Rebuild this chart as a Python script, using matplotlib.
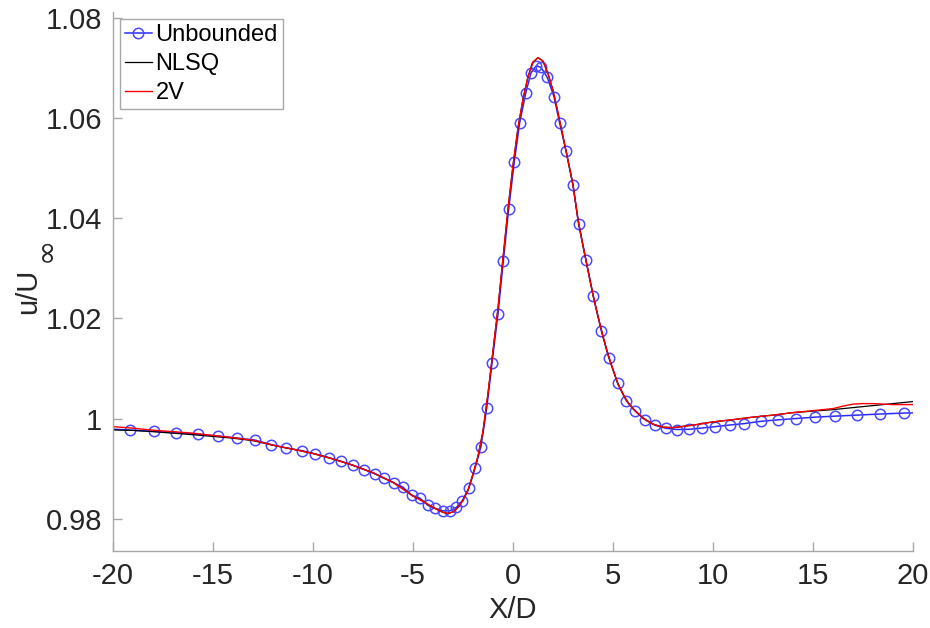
import numpy as np
import matplotlib
matplotlib.use('Agg')
import matplotlib.pyplot as plt

plt.rcParams['font.family'] = ['Liberation Sans', 'DejaVu Sans']
plt.rcParams['axes.unicode_minus'] = False

# Unbounded: line end points plus the circle markers
unb_x = [-20.0, -19.165, -17.965, -16.835, -15.75, -14.765, -13.815, -12.915, -12.1,
         -11.335, -10.565, -9.885, -9.215, -8.6, -8.015, -7.435, -6.885, -6.45, -5.95,
         -5.5, -5.065, -4.65, -4.25, -3.885, -3.515, -3.165, -2.835, -2.55, -2.215,
         -1.9, -1.6, -1.315, -1.05, -0.75, -0.485, -0.215, 0.065, 0.335, 0.635, 0.9,
         1.165, 1.4, 1.715, 2.05, 2.335, 2.65, 3.0, 3.285, 3.65, 4.015, 4.415, 4.8,
         5.235, 5.665, 6.125, 6.61, 7.11, 7.65, 8.215, 8.79, 9.45, 10.125, 10.84,
         11.575, 12.385, 13.24, 14.15, 15.11, 16.11, 17.185, 18.35, 19.55, 20.0]
unb_y = [0.9979, 0.99773, 0.99747, 0.99721, 0.99688, 0.99654, 0.99614, 0.99574, 0.99483,
         0.99415, 0.99363, 0.99296, 0.99224, 0.99150, 0.99071, 0.98985, 0.98898, 0.98812,
         0.98718, 0.98633, 0.98468, 0.98414, 0.98269, 0.98209, 0.98161, 0.98161, 0.98229,
         0.98354, 0.98607, 0.99011, 0.99443, 1.00205, 1.01106, 1.02090, 1.03136, 1.04179,
         1.05120, 1.05902, 1.06488, 1.06898, 1.07037, 1.07005, 1.06806, 1.06420, 1.05891,
         1.05345, 1.04663, 1.03873, 1.03156, 1.02440, 1.01757, 1.01206, 1.00702, 1.00358,
         1.00145, 0.99976, 0.99867, 0.99807, 0.99783, 0.99787, 0.99813, 0.99841, 0.99873,
         0.99902, 0.99946, 0.99976, 1.00002, 1.00030, 1.00050, 1.00070, 1.00092, 1.00111,
         1.00115]

# shared middle part of the two fitted curves
mid_x = [-12, -11, -10, -9, -8, -7, -6, -5, -4.5, -4, -3.5, -3.25, -3, -2.75, -2.5,
         -2.25, -2, -1.75, -1.5, -1.25, -1, -0.75, -0.5, -0.25, 0, 0.25, 0.5, 0.75, 1.0,
         1.25, 1.5, 1.75, 2.0, 2.25, 2.5, 2.75, 3.0, 3.25, 3.5, 3.75, 4.0, 4.25, 4.5,
         4.75, 5.0, 5.25, 5.5, 5.75, 6.0, 6.5, 7.0, 7.5, 8.0, 9.0, 10.0, 11.0, 12.0, 13.0, 14.0]
mid_y = [0.9947, 0.9939, 0.99305, 0.99195, 0.9907, 0.9892, 0.9873, 0.9846, 0.9835,
         0.9823, 0.9813, 0.9811, 0.9814, 0.9823, 0.9837, 0.9857, 0.9889, 0.9925, 0.9975,
         1.0050, 1.0135, 1.0220, 1.0320, 1.0418, 1.0505, 1.0580, 1.0637, 1.0682, 1.0711,
         1.0720, 1.0713, 1.0688, 1.0655, 1.0610, 1.0563, 1.0515, 1.0466, 1.0397, 1.0345,
         1.0296, 1.0247, 1.0204, 1.0164, 1.0128, 1.0098, 1.0069, 1.0049, 1.0032, 1.0020,
         1.0001, 0.9989, 0.9983, 0.9982, 0.9987, 0.99935, 0.9998, 1.0003, 1.0007, 1.0012]

nlsq_left_x = [-20, -19, -18, -16, -14, -13]
nlsq_left_y = [0.99775, 0.99765, 0.9974, 0.9968, 0.9961, 0.9956]
nlsq_right_x = [16, 18, 20]
nlsq_right_y = [1.0018, 1.0026, 1.0034]

v2_left_x = [-20, -19, -18, -16, -14, -13]
v2_left_y = [0.9984, 0.9981, 0.9977, 0.9971, 0.9962, 0.9957]
v2_right_x = [15, 15.5, 16, 16.5, 17, 17.5, 18, 18.5, 19, 20]
v2_right_y = [1.0016, 1.0018, 1.0020, 1.0025, 1.0029, 1.0030, 1.0030, 1.0029, 1.0028, 1.0028]

nlsq_x = nlsq_left_x + mid_x + nlsq_right_x
nlsq_y = nlsq_left_y + mid_y + nlsq_right_y
v2_x = v2_left_x + mid_x + v2_right_x
v2_y = v2_left_y + mid_y + v2_right_y

x_ticks = [-20, -15, -10, -5, 0, 5, 10, 15, 20]
y_ticks = [0.98, 1.0, 1.02, 1.04, 1.06, 1.08]
y_tick_labels = ['0.98', '1', '1.02', '1.04', '1.06', '1.08']

fig = plt.figure(figsize=(9.3, 6.28), dpi=100)
ax = fig.add_axes([0.1215, 0.1226, 0.8602, 0.8583])

ax.plot(unb_x, unb_y, color='#2a2aff', lw=1.1, marker='o', markersize=7.5,
        markerfacecolor='none', markeredgecolor='#4a4aff', markeredgewidth=1.1,
        markevery=slice(1, len(unb_x) - 1), label='Unbounded')
ax.plot(nlsq_x, nlsq_y, color='black', lw=0.9, label='NLSQ')
ax.plot(v2_x, v2_y, color='red', lw=1.0, label='2V')

ax.set_xlim(-20, 20)
ax.set_ylim(0.9736, 1.0811)
ax.set_xticks(x_ticks)
ax.set_yticks(y_ticks)
ax.set_yticklabels(y_tick_labels)

for side in ['top', 'right']:
    ax.spines[side].set_visible(False)
for side in ['left', 'bottom']:
    ax.spines[side].set_color('#a8a8a8')
    ax.spines[side].set_linewidth(1.0)
ax.tick_params(direction='in', length=6.5, width=1.0, color='#a8a8a8',
               labelsize=21, labelcolor='#262626', pad=8)

ax.set_xlabel('X/D', fontsize=21, color='#262626', labelpad=4)
# y label: "u/U" with a big subscript infinity, like the original
ax.set_ylabel('u/U', fontsize=21, color='#262626')
ax.yaxis.set_label_coords(-0.088, 0.482)
fig.text(46 / 930, 1 - 249 / 628, '\u221e', fontsize=22, family='DejaVu Sans',
         color='#262626', rotation=90, ha='center', va='center')

leg = ax.legend(loc='upper left', fontsize=17, handlelength=1.15, handletextpad=0.15,
                labelspacing=0.3, borderpad=0.2, borderaxespad=0.3, fancybox=False,
                framealpha=1, edgecolor='#a8a8a8')
leg.get_frame().set_linewidth(1.0)

fig.savefig('out.png', dpi=100)
